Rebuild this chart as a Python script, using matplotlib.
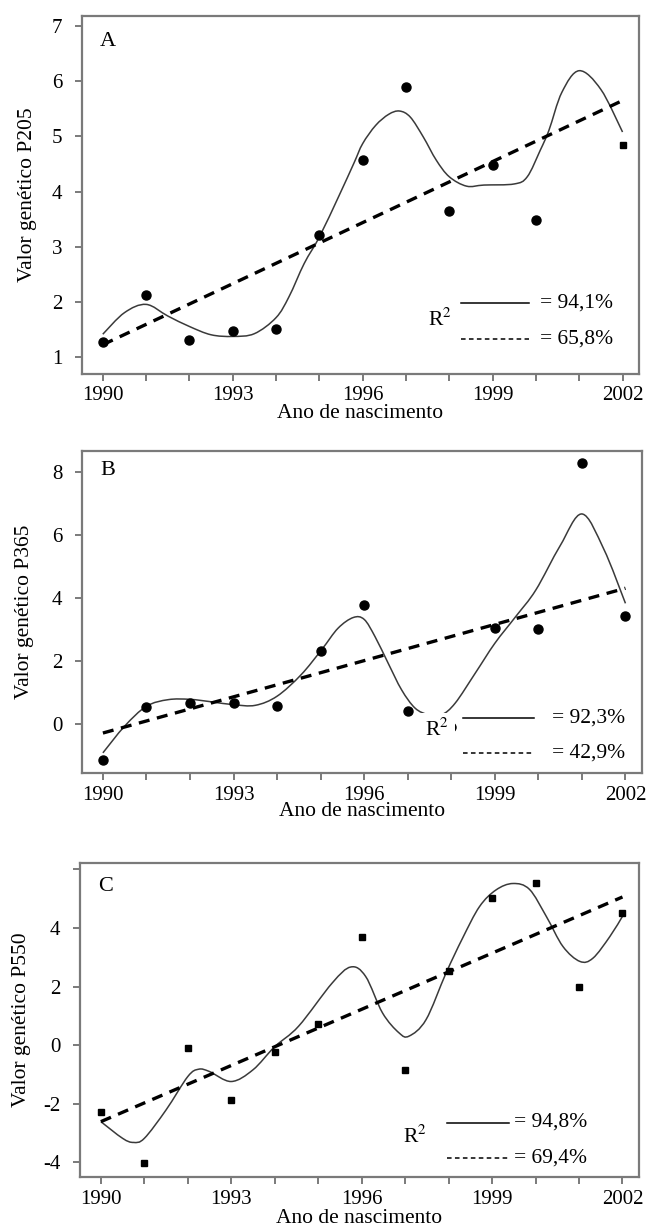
import matplotlib
matplotlib.use("Agg")
import matplotlib.pyplot as plt
from matplotlib.path import Path
from matplotlib.patches import PathPatch

plt.rcParams['font.family'] = ['Liberation Serif', 'DejaVu Serif']
plt.rcParams['mathtext.fontset'] = 'stix'

# ---------------- data ----------------
years = [1990, 1991, 1992, 1993, 1994, 1995, 1996, 1997, 1998, 1999, 2000, 2001, 2002]

# Panel A (P205) - observed points (no point in 2001)
a_years = [1990, 1991, 1992, 1993, 1994, 1995, 1996, 1997, 1998, 1999, 2000]
a_vals = [1.28, 2.13, 1.31, 1.48, 1.51, 3.22, 4.57, 5.90, 3.65, 4.49, 3.49]
a_sq_year = [2002]
a_sq_val = [4.84]
a_curve_x = [1990.0, 1990.5, 1991.0, 1991.5, 1992.0, 1992.5, 1993.0, 1993.5, 1994.0,
             1994.3, 1994.65, 1995.0, 1995.45, 1995.8, 1996.0, 1996.3, 1996.6, 1996.85,
             1997.1, 1997.4, 1997.7, 1998.0, 1998.4, 1998.8, 1999.5, 1999.8, 2000.1,
             2000.3, 2000.6, 2001.0, 2001.5, 2002.0]
a_curve_y = [1.42, 1.81, 1.96, 1.75, 1.56, 1.41, 1.38, 1.43, 1.72,
             2.10, 2.70, 3.18, 3.92, 4.52, 4.87, 5.20, 5.40, 5.46,
             5.35, 4.99, 4.57, 4.27, 4.10, 4.12, 4.14, 4.27, 4.75,
             5.11, 5.80, 6.19, 5.85, 5.08]
a_trend_x = [1990, 2002]
a_trend_y = [1.23, 5.65]
a_r2 = ["= 94,1%", "= 65,8%"]

# Panel B (P365)
b_vals = [-1.17, 0.52, 0.66, 0.66, 0.55, 2.32, 3.77, 0.41, -0.11, 3.05, 3.00, 8.27, 3.43]
b_curve_x = [1990.0, 1990.5, 1991.0, 1991.5, 1992.0, 1992.5, 1993.0, 1993.5, 1994.0,
             1994.55, 1995.03, 1995.4, 1995.75, 1996.0, 1996.25, 1996.55, 1996.86,
             1997.17, 1997.48, 1997.78, 1998.09, 1998.55, 1999.0, 1999.48, 1999.94,
             2000.5, 2001.0, 2001.5, 2002.0]
b_curve_y = [-0.93, -0.08, 0.55, 0.76, 0.77, 0.69, 0.60, 0.58, 0.87,
             1.55, 2.36, 3.03, 3.37, 3.31, 2.76, 1.92, 1.07,
             0.49, 0.28, 0.28, 0.65, 1.60, 2.55, 3.40, 4.24,
             5.65, 6.66, 5.55, 3.82]
b_trend_x = [1990, 2002]
b_trend_y = [-0.30, 4.30]
b_r2 = ["= 92,3%", "= 42,9%"]

# Panel C (P550)
c_vals = [-2.27, -4.03, -0.10, -1.87, -0.24, 0.73, 3.69, -0.85, 2.52, 5.03, 5.54, 1.99, 4.50]
c_curve_x = [1990.0, 1990.5, 1990.75, 1991.0, 1991.5, 1992.0, 1992.25, 1992.5, 1993.0,
             1993.5, 1994.0, 1994.55, 1995.32, 1995.75, 1996.09, 1996.48, 1996.86,
             1997.09, 1997.48, 1997.94, 1998.32, 1998.71, 1999.09, 1999.48, 1999.86,
             2000.25, 2000.63, 2001.02, 2001.32, 2001.71, 2002.0]
c_curve_y = [-2.61, -3.18, -3.32, -3.18, -2.21, -1.07, -0.82, -0.90, -1.24,
             -0.84, -0.05, 0.65, 2.12, 2.67, 2.35, 1.10, 0.42,
             0.31, 0.87, 2.46, 3.65, 4.73, 5.30, 5.52, 5.32,
             4.39, 3.37, 2.86, 2.97, 3.71, 4.40]
c_trend_x = [1990, 2002]
c_trend_y = [-2.61, 5.06]
c_r2 = ["= 94,8%", "= 69,4%"]

xtick_labels = ["1990", "1993", "1996", "1999", "2002"]
xlabel = "Ano de nascimento"

# ---------------- figure ----------------
W, H = 648, 1227
fig = plt.figure(figsize=(W / 100, H / 100), dpi=100)

def frac(l, t, r, b):
    return [l / W, 1 - b / H, (r - l) / W, (b - t) / H]

FRAME = '#7a7a7a'
FS = 15
LFS = 15.5
CURVE = '#3a3a3a'
DASH = (0, (3.3, 2.3))


def smooth_curve(ax, xs, ys, **kw):
    """Draw a smooth curve through the read points (Catmull-Rom as cubic Bezier)."""
    p = list(zip(xs, ys))
    n = len(p)
    verts = [p[0]]
    codes = [Path.MOVETO]
    for i in range(n - 1):
        p0 = p[i - 1] if i > 0 else p[i]
        p1 = p[i]
        p2 = p[i + 1]
        p3 = p[i + 2] if i + 2 < n else p[i + 1]
        c1 = (p1[0] + (p2[0] - p0[0]) / 6, p1[1] + (p2[1] - p0[1]) / 6)
        c2 = (p2[0] - (p3[0] - p1[0]) / 6, p2[1] - (p3[1] - p1[1]) / 6)
        verts += [c1, c2, p2]
        codes += [Path.CURVE4, Path.CURVE4, Path.CURVE4]
    patch = PathPatch(Path(verts, codes), facecolor='none', transform=ax.transData, **kw)
    ax.add_patch(patch)


def style_axes(ax, ylim, yticks, ylabels, ylabel, letter, letter_y, ylab_x, xlab_y):
    ax.set_xlim(1989.52, 2002.38)
    ax.set_ylim(*ylim)
    ax.set_xticks(years)
    ax.set_xticklabels([str(y) if str(y) in xtick_labels else "" for y in years])
    ax.set_yticks(yticks)
    ax.set_yticklabels(ylabels)
    for s in ax.spines.values():
        s.set_color(FRAME)
        s.set_linewidth(1.6)
    ax.tick_params(axis='both', colors=FRAME, labelcolor='black', labelsize=FS,
                   length=5, width=1.4)
    ax.tick_params(axis='y', pad=9)
    ax.tick_params(axis='x', pad=4)
    ax.set_ylabel(ylabel, fontsize=LFS, va='center')
    ax.yaxis.set_label_coords(ylab_x, 0.5)
    ax.set_xlabel(xlabel, fontsize=LFS, va='center')
    ax.xaxis.set_label_coords(0.5, xlab_y)
    ax.text(1989.94, letter_y, letter, fontsize=16, ha='left', va='center')


def draw_legend(ax, rx, ry, x0, x1, y_solid, y_dash, tx, texts, box=False):
    bb = dict(facecolor='white', edgecolor='none', pad=4) if box else None
    ax.text(rx, ry, "R$^{2}$", fontsize=LFS, ha='left', va='center', bbox=bb, zorder=6)
    ax.plot([x0, x1], [y_solid, y_solid], color='black', lw=1.1, zorder=7)
    ax.plot([x0, x1], [y_dash, y_dash], color='black', lw=1.1,
            linestyle=(0, (3, 2.2)), zorder=7)
    ax.text(tx, y_solid, texts[0], fontsize=LFS, ha='left', va='center', zorder=7)
    ax.text(tx, y_dash, texts[1], fontsize=LFS, ha='left', va='center', zorder=7)


# Panel A
axA = fig.add_axes(frac(82, 16, 639, 374))
smooth_curve(axA, a_curve_x, a_curve_y, edgecolor=CURVE, lw=1.1, zorder=3)
axA.plot(a_trend_x, a_trend_y, color='black', lw=2.4, linestyle=DASH, zorder=3)
axA.plot(a_years, a_vals, 'o', color='black', ms=6.5, zorder=4)
axA.plot(a_sq_year, a_sq_val, 's', color='black', ms=5, zorder=4)
style_axes(axA, (0.70, 7.18), [1, 2, 3, 4, 5, 6, 7], ["1", "2", "3", "4", "5", "6", "7"],
           "Valor genético P205", "A", 6.71, -0.0987, -0.109)
draw_legend(axA, 1997.5, 1.69, 1998.26, 1999.83, 1.98, 1.33, 2000.1, a_r2)

# Panel B
axB = fig.add_axes(frac(82, 451, 642, 773))
smooth_curve(axB, b_curve_x, b_curve_y, edgecolor=CURVE, lw=1.1, zorder=3)
axB.plot(b_trend_x, b_trend_y, color='black', lw=2.4, linestyle=DASH, zorder=3)
axB.plot(years, b_vals, 'o', color='black', ms=6.5, zorder=5)
style_axes(axB, (-1.57, 8.66), [0, 2, 4, 6, 8], ["0", "2", "4", "6", "8"],
           "Valor genético P365", "B", 8.03, -0.102, -0.121)
draw_legend(axB, 1997.4, -0.2, 1998.28, 1999.9, 0.19, -0.93, 2000.32, b_r2, box=True)

# Panel C
axC = fig.add_axes(frac(80, 863, 639, 1177))
smooth_curve(axC, c_curve_x, c_curve_y, edgecolor=CURVE, lw=1.1, zorder=3)
axC.plot(c_trend_x, c_trend_y, color='black', lw=2.4, linestyle=DASH, zorder=3)
axC.plot(years, c_vals, 's', color='black', ms=5, zorder=4)
style_axes(axC, (-4.5, 6.22), [-4, -2, 0, 2, 4, 6], ["-4", "-2", "0", "2", "4", ""],
           "Valor genético P550", "C", 5.41, -0.1055, -0.131)
draw_legend(axC, 1996.95, -3.12, 1997.96, 1999.4, -2.64, -3.86, 1999.5, c_r2)

fig.savefig("out.png", dpi=100)
